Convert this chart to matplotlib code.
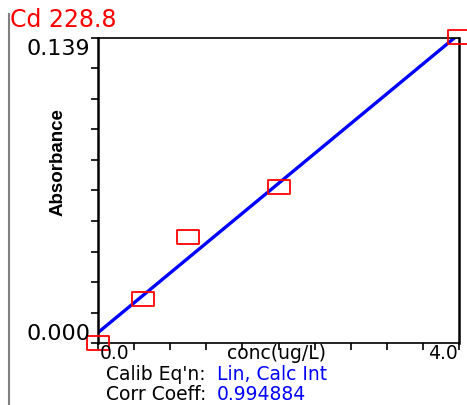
#%% imports

import numpy as np
import matplotlib.pyplot as plt
from matplotlib.lines import Line2D
from matplotlib.path import Path

#%% calibration data

element = "Cd 228.8"
conc = [0.0, 0.5, 1.0, 2.0, 4.0]              # ug/L
absorbance = [0.0, 0.0200, 0.0483, 0.0709, 0.1395]
y_max = 0.139
x_max = 4.0
calib_eq = "Lin, Calc Int"
corr_coeff = "0.994884"

#%% linear fit with calculated intercept

slope, intercept = np.polyfit(conc, absorbance, 1)
x_fit = np.array([0.0, x_max])
y_fit = slope * x_fit + intercept

#%% figure

W, H = 467, 405
fig = plt.figure(figsize=(W / 100, H / 100), dpi=100)
fig.patch.set_facecolor('white')

ax = fig.add_axes([98 / W, 1 - 343 / H, (459 - 98) / W, (343 - 38) / H])
ax.set_xlim(0, x_max)
ax.set_ylim(0, y_max)

ax.plot(x_fit, y_fit, color=(0, 0, 1), lw=2.4, solid_capstyle='butt')

# wide open rectangles for the standards
rect = Path([(-1.57, -1), (1.57, -1), (1.57, 1), (-1.57, 1), (-1.57, -1)],
            [Path.MOVETO, Path.LINETO, Path.LINETO, Path.LINETO, Path.CLOSEPOLY])
ax.plot(conc, absorbance, linestyle='none', marker=rect, markersize=16,
        markerfacecolor='none', markeredgecolor=(1, 0, 0), markeredgewidth=1.3,
        clip_on=False, zorder=5)

ax.set_xticks(np.linspace(0, x_max, 11))
ax.set_yticks(np.linspace(0, y_max, 11))
ax.set_xticklabels([])
ax.set_yticklabels([])
ax.tick_params(direction='out', length=5, width=1.2, color='black')
for side in ['left', 'right']:
    ax.spines[side].set_linewidth(1.8)
for side in ['top', 'bottom']:
    ax.spines[side].set_linewidth(1.2)

# y range labels at the ends of the axis
ytick_font = dict(family='DejaVu Sans', fontsize=16, color='black')
fig.text(90 / W, 1 - 55 / H, f"{y_max:.3f}", ha='right', va='baseline', **ytick_font)
fig.text(90 / W, 1 - 340 / H, f"{0:.3f}", ha='right', va='baseline', **ytick_font)

# x range labels and axis title on one row
xtick_font = dict(family='DejaVu Sans', fontsize=13.5, color='black')
row_x = 1 - 359 / H
fig.text(100 / W, row_x, f"{0:.1f}", ha='left', va='baseline', **xtick_font)
fig.text(458 / W, row_x, f"{x_max:.1f}", ha='right', va='baseline', **xtick_font)
fig.text(277 / W, row_x, "conc(ug/L)", ha='center', va='baseline', **xtick_font)

fig.text(58 / W, 1 - 162 / H, "Absorbance", rotation=90, ha='center',
         va='center', family='Liberation Sans', fontweight='bold', fontsize=13.5)

# element / wavelength header
fig.text(10 / W, 1 - 8 / H, element, ha='left', va='top',
         family='DejaVu Sans', fontsize=17, color=(1, 0, 0))

# fit info under the plot
info_font = dict(family='DejaVu Sans', fontsize=13.5)
row1 = 1 - 380 / H
row2 = 1 - 400 / H
fig.text(206 / W, row1, "Calib Eq'n:", ha='right', va='baseline',
         color='black', **info_font)
fig.text(217 / W, row1, calib_eq, ha='left', va='baseline',
         color=(0, 0, 1), **info_font)
fig.text(206 / W, row2, "Corr Coeff:", ha='right', va='baseline',
         color='black', **info_font)
fig.text(217 / W, row2, corr_coeff, ha='left', va='baseline',
         color=(0, 0, 1), **info_font)

# panel border on the left
fig.add_artist(Line2D([9 / W, 9 / W], [1 - 14 / H, 0], color='#808080', lw=1.5))

fig.savefig('out.png', dpi=100)
